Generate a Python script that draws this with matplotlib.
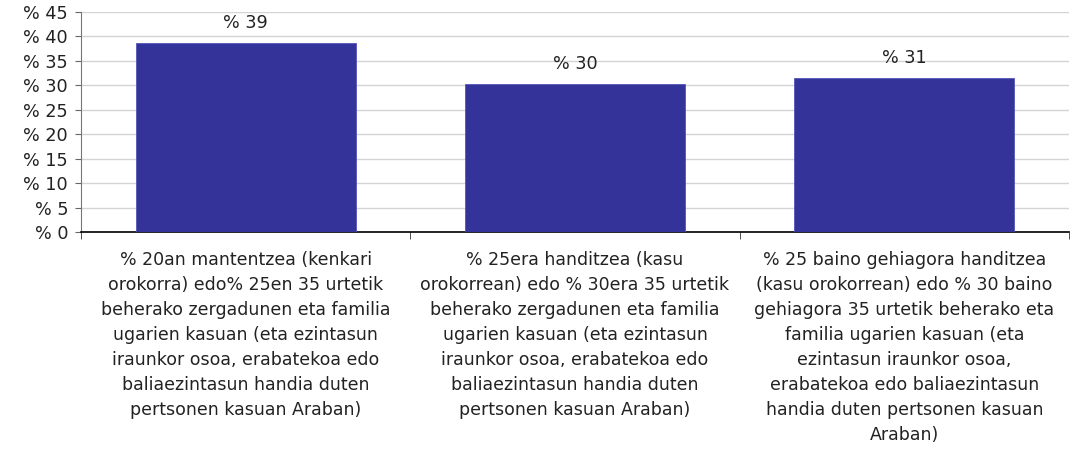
import matplotlib
matplotlib.use("Agg")
import matplotlib.pyplot as plt
import numpy as np

categories = [
    "% 20an mantentzea (kenkari\norokorra) edo% 25en 35 urtetik\nbeherako zergadunen eta familia\nugarien kasuan (eta ezintasun\niraunkor osoa, erabatekoa edo\nbaliaezintasun handia duten\npertsonen kasuan Araban)",
    "% 25era handitzea (kasu\norokorrean) edo % 30era 35 urtetik\nbeherako zergadunen eta familia\nugarien kasuan (eta ezintasun\niraunkor osoa, erabatekoa edo\nbaliaezintasun handia duten\npertsonen kasuan Araban)",
    "% 25 baino gehiagora handitzea\n(kasu orokorrean) edo % 30 baino\ngehiagora 35 urtetik beherako eta\nfamilia ugarien kasuan (eta\nezintasun iraunkor osoa,\nerabatekoa edo baliaezintasun\nhandia duten pertsonen kasuan\nAraban)",
]
values = [38.7, 30.2, 31.4]
value_labels = ["% 39", "% 30", "% 31"]
yticks = [0, 5, 10, 15, 20, 25, 30, 35, 40, 45]
ytick_labels = ["% 0", "% 5", "% 10", "% 15", "% 20", "% 25", "% 30", "% 35", "% 40", "% 45"]

plt.rcParams['font.family'] = ['DejaVu Sans']
W, H = 1077, 451
fig = plt.figure(figsize=(W / 100, H / 100), dpi=100)
ax = fig.add_axes([81 / W, 1 - 232 / H, (1069 - 81) / W, (232 - 12) / H])

x = np.arange(len(categories))
ax.bar(x, values, width=0.668, color="#333399", edgecolor="#5555bb", linewidth=0.6, zorder=3)
for xi, v, lab in zip(x, values, value_labels):
    ax.annotate(lab, (xi, v), xytext=(0, 8), textcoords="offset points",
                ha="center", va="bottom", fontsize=12.7, color="#222222")

ax.set_xlim(-0.5, len(categories) - 0.5)
ax.set_ylim(0, 45)
ax.set_yticks(yticks)
ax.set_yticklabels(ytick_labels, fontsize=12.7, color="#222222")
ax.yaxis.grid(True, color="#d4d4d4", linewidth=1.0, zorder=0)
ax.set_axisbelow(True)

ax.set_xticks(x)
ax.set_xticklabels(categories, fontsize=12.5, color="#222222", linespacing=1.5)
ax.tick_params(axis="x", length=0, pad=14)
ax.set_xticks(np.arange(-0.5, len(categories)), minor=True)
ax.tick_params(axis="x", which="minor", length=5, color="#333333", direction="out")
ax.tick_params(axis="y", length=4.3, color="#666666", direction="out", pad=5)

for s in ["top", "right"]:
    ax.spines[s].set_visible(False)
ax.spines["left"].set_color("#777777")
ax.spines["bottom"].set_color("#000000")
ax.spines["bottom"].set_linewidth(1.2)

fig.savefig("out.png", dpi=100)
